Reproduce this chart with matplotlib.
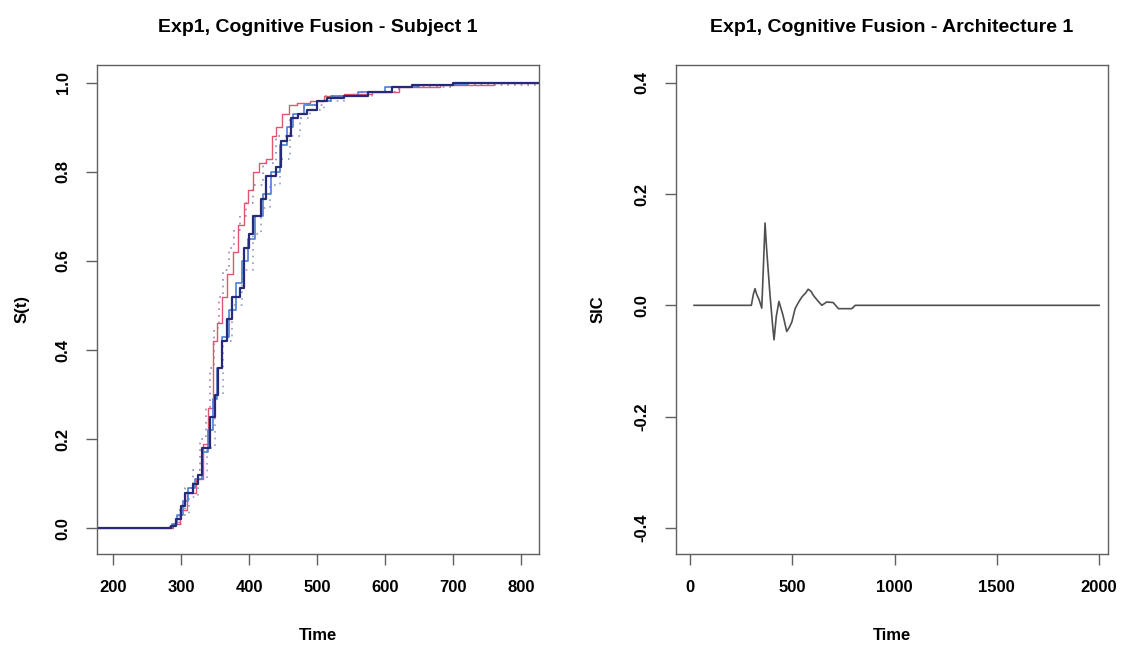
import matplotlib
matplotlib.use("Agg")
import matplotlib.pyplot as plt

plt.rcParams["font.family"] = ["Liberation Sans", "DejaVu Sans"]
plt.rcParams["font.weight"] = "bold"
plt.rcParams["axes.labelweight"] = "bold"

# Left panel: cumulative curves per condition (time, S(t)) as steps
t_navy = [176, 285, 292, 300, 306, 318, 324, 331, 343, 350, 354, 360, 368, 375, 386, 392, 400, 405, 418, 425, 440, 447, 455, 462, 472, 485, 500, 515, 540, 575, 610, 640, 700, 826]
s_navy = [0.0, 0.005, 0.02, 0.05, 0.08, 0.10, 0.12, 0.18, 0.25, 0.30, 0.36, 0.42, 0.47, 0.52, 0.54, 0.63, 0.66, 0.70, 0.74, 0.79, 0.81, 0.87, 0.88, 0.92, 0.93, 0.94, 0.96, 0.965, 0.97, 0.98, 0.99, 0.995, 1.0, 1.0]

t_blue = [176, 286, 294, 302, 310, 320, 330, 340, 347, 352, 360, 370, 380, 390, 398, 408, 420, 432, 445, 455, 465, 480, 500, 520, 560, 600, 650, 720, 826]
s_blue = [0.0, 0.01, 0.03, 0.06, 0.09, 0.11, 0.17, 0.22, 0.29, 0.36, 0.43, 0.49, 0.55, 0.60, 0.65, 0.70, 0.75, 0.80, 0.86, 0.90, 0.93, 0.95, 0.96, 0.97, 0.98, 0.99, 0.995, 1.0, 1.0]

t_red = [176, 288, 298, 308, 322, 332, 340, 346, 352, 360, 368, 376, 384, 392, 398, 406, 415, 425, 433, 440, 448, 458, 470, 490, 510, 540, 580, 620, 680, 760, 826]
s_red = [0.0, 0.01, 0.04, 0.08, 0.11, 0.19, 0.27, 0.42, 0.46, 0.52, 0.57, 0.62, 0.68, 0.73, 0.76, 0.80, 0.82, 0.83, 0.88, 0.90, 0.93, 0.95, 0.955, 0.96, 0.97, 0.975, 0.98, 0.99, 0.995, 1.0, 1.0]

t_dot1 = [176, 284, 296, 305, 318, 328, 336, 342, 348, 355, 362, 370, 378, 386, 395, 405, 420, 440, 460, 480, 510, 560, 620, 700, 826]
s_dot1 = [0.0, 0.01, 0.04, 0.09, 0.13, 0.20, 0.27, 0.36, 0.45, 0.52, 0.58, 0.63, 0.67, 0.70, 0.73, 0.77, 0.82, 0.88, 0.92, 0.95, 0.97, 0.98, 0.99, 0.995, 1.0]

t_dot2 = [176, 290, 300, 312, 325, 338, 350, 362, 375, 390, 405, 418, 430, 445, 460, 475, 490, 510, 540, 580, 620, 680, 760, 826]
s_dot2 = [0.0, 0.01, 0.03, 0.07, 0.11, 0.18, 0.30, 0.42, 0.50, 0.58, 0.66, 0.72, 0.77, 0.83, 0.88, 0.92, 0.94, 0.96, 0.97, 0.98, 0.99, 0.995, 1.0, 1.0]

# Right panel: survivor interaction contrast
t_sic = [20, 300, 310, 318, 326, 338, 351, 358, 367, 375, 391, 405, 411, 422, 435, 455, 473, 485, 498, 514, 530, 547, 565, 578, 592, 603, 625, 645, 668, 700, 726, 760, 791, 808, 900, 1200, 1600, 2000]
sic = [0.0, 0.0, 0.02, 0.03, 0.02, 0.01, -0.005, 0.06, 0.148, 0.10, 0.02, -0.04, -0.062, -0.02, 0.007, -0.018, -0.047, -0.04, -0.03, -0.006, 0.005, 0.015, 0.022, 0.029, 0.025, 0.018, 0.008, 0.0, 0.006, 0.005, -0.006, -0.006, -0.006, 0.0, 0.0, 0.0, 0.0, 0.0]

fig = plt.figure(figsize=(11.26, 6.46), dpi=100)
ax1 = fig.add_axes([0.0861, 0.1424, 0.3925, 0.757])
ax2 = fig.add_axes([0.6004, 0.1424, 0.3837, 0.757])

ax1.step(t_dot1, s_dot1, where="post", color="#9b84b8", lw=1.2, ls=(0, (1, 3)))
ax1.step(t_dot2, s_dot2, where="post", color="#8f9fc4", lw=1.2, ls=(0, (1, 3)))
ax1.step(t_red, s_red, where="post", color="#e0566e", lw=1.0)
ax1.step(t_blue, s_blue, where="post", color="#4a7fd6", lw=1.2)
ax1.step(t_navy, s_navy, where="post", color="#262a78", lw=1.6)

ax1.set_xlim(176, 826)
ax1.set_ylim(-0.058, 1.04)
ax1.set_xticks([200, 300, 400, 500, 600, 700, 800])
ax1.set_yticks([0.0, 0.2, 0.4, 0.6, 0.8, 1.0])
ax1.set_title("Exp1, Cognitive Fusion - Subject 1", fontsize=14, fontweight="bold", pad=24)
ax1.set_xlabel("Time", fontsize=12, fontweight="bold")
ax1.set_ylabel("S(t)", fontsize=12, fontweight="bold")
ax1.xaxis.set_label_coords(0.5, -74 / 489)
ax1.yaxis.set_label_coords(-67 / 441, 0.5)

ax2.plot(t_sic, sic, color="#505050", lw=1.2)
ax2.set_xlim(-68, 2044)
ax2.set_ylim(-0.447, 0.432)
ax2.set_xticks([0, 500, 1000, 1500, 2000])
ax2.set_yticks([-0.4, -0.2, 0.0, 0.2, 0.4])
ax2.set_yticklabels(["-0.4", "-0.2", "0.0", "0.2", "0.4"])
ax2.set_title("Exp1, Cognitive Fusion - Architecture 1", fontsize=14, fontweight="bold", pad=24)
ax2.set_xlabel("Time", fontsize=12, fontweight="bold")
ax2.set_ylabel("SIC", fontsize=12, fontweight="bold")
ax2.xaxis.set_label_coords(0.5, -74 / 489)
ax2.yaxis.set_label_coords(-71 / 432, 0.5)

for ax in (ax1, ax2):
    for sp in ax.spines.values():
        sp.set_color("#606060")
        sp.set_linewidth(1.0)
    ax.tick_params(length=8, width=1.0, color="#606060", pad=11, labelsize=12)
    for lab in ax.get_yticklabels():
        lab.set_rotation(90)
        lab.set_va("center")

fig.savefig("out.png", dpi=100)
